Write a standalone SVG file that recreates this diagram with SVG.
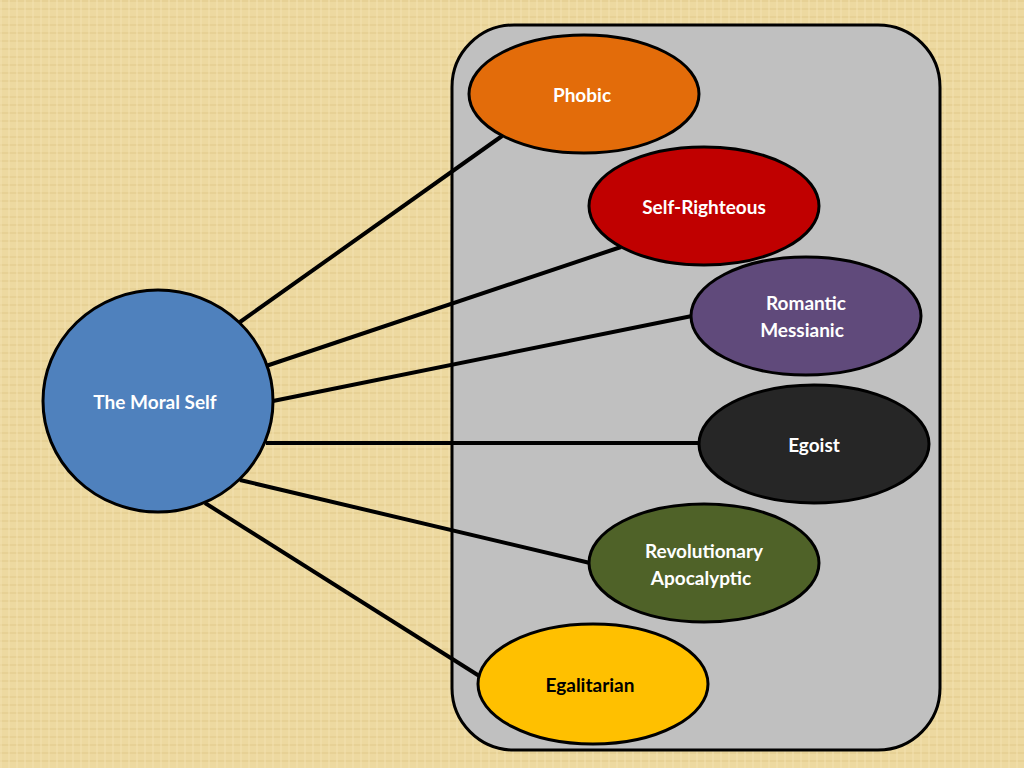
<svg xmlns="http://www.w3.org/2000/svg" width="1024" height="768" viewBox="0 0 1024 768">
<defs>
<pattern id="tex" width="8" height="8" patternUnits="userSpaceOnUse">
<rect width="8" height="8" fill="#EDD9A0"/>
<rect width="8" height="2" fill="#E3CC8E" opacity="0.6"/>
<rect width="2" height="8" fill="#F3E2B0" opacity="0.5"/>
</pattern>
<style>
.n{stroke:#000;stroke-width:3}
.t{font-family:Lato,"Open Sans","DejaVu Sans",sans-serif;font-weight:bold;font-size:19px;text-anchor:middle;fill:#fff}
.c{stroke:#000;stroke-width:4;fill:none}
</style>
</defs>
<rect width="1024" height="768" fill="url(#tex)"/>
<rect x="452" y="25" width="488" height="725" rx="62" fill="#C0C0C0" stroke="#000" stroke-width="3"/>
<g id="connectors">
<line class="c" x1="240" y1="322" x2="502" y2="136"/>
<line class="c" x1="266" y1="366" x2="621" y2="247"/>
<line class="c" x1="273" y1="401" x2="692" y2="316"/>
<line class="c" x1="266" y1="443" x2="699" y2="443"/>
<line class="c" x1="240" y1="480" x2="590" y2="563"/>
<line class="c" x1="205" y1="503" x2="492" y2="684"/>
</g>
<g id="moral"><ellipse class="n" cx="158" cy="401" rx="115" ry="111" fill="#4F81BD"/><text class="t" x="155" y="409">The Moral Self</text></g>
<g id="phobic"><ellipse class="n" cx="584" cy="94" rx="115" ry="59" fill="#E36C0A"/><text class="t" x="582" y="102">Phobic</text></g>
<g id="selfr"><ellipse class="n" cx="704" cy="206" rx="115" ry="59" fill="#C00000"/><text class="t" x="704" y="214">Self-Righteous</text></g>
<g id="romantic"><ellipse class="n" cx="806" cy="316" rx="115" ry="59" fill="#604A7B"/><text class="t" x="806" y="310">Romantic</text><text class="t" x="802" y="337">Messianic</text></g>
<g id="egoist"><ellipse class="n" cx="814" cy="444" rx="115" ry="59" fill="#262626"/><text class="t" x="814" y="452">Egoist</text></g>
<g id="revol"><ellipse class="n" cx="704" cy="563" rx="115" ry="59" fill="#4F6228"/><text class="t" x="704" y="558">Revolutionary</text><text class="t" x="701" y="585">Apocalyptic</text></g>
<g id="egal"><ellipse class="n" cx="593" cy="684" rx="115" ry="60" fill="#FFC000"/><text class="t" x="590" y="692" fill="#000" style="fill:#000">Egalitarian</text></g>
</svg>
